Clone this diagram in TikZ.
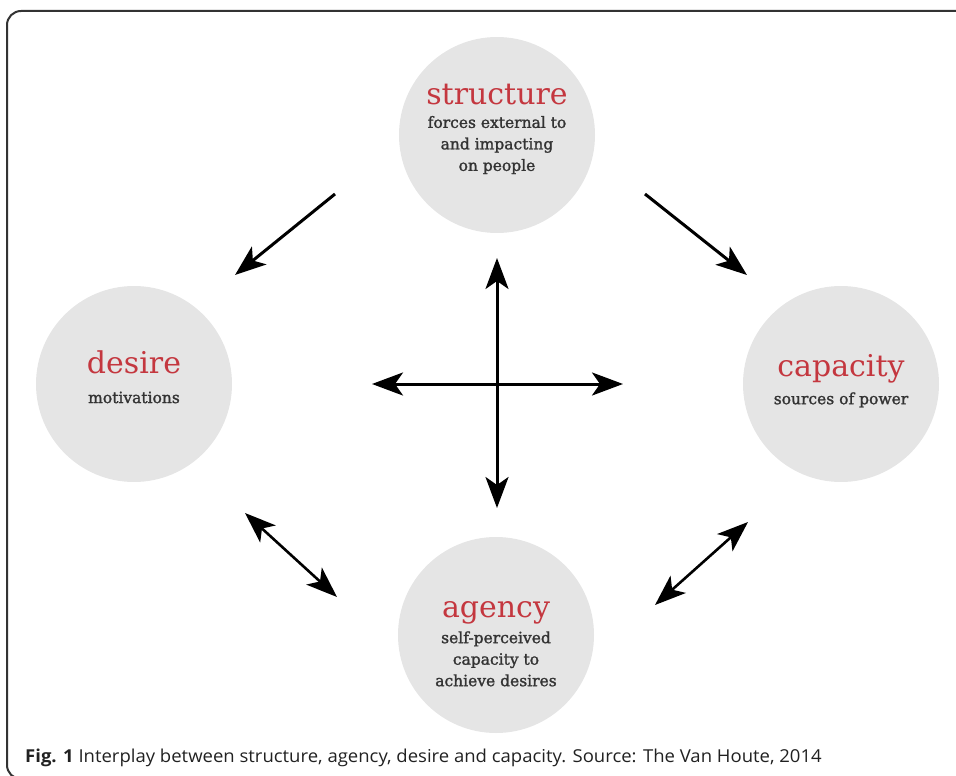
\documentclass[tikz,border=0pt]{standalone}
\usepackage{fontspec}
\setmainfont{DejaVu Serif}
\newfontfamily\blurbfont[FakeBold=1.5]{DejaVu Serif}
\newfontfamily\capfont[FakeStretch=1.04]{Open Sans}
\usepackage{xcolor}
\usetikzlibrary{arrows.meta}

\definecolor{bubblegray}{HTML}{E5E5E5}
\definecolor{headred}{HTML}{C4373F}
\definecolor{bodygray}{HTML}{333333}
\definecolor{framegray}{HTML}{333333}

\begin{document}
\begin{tikzpicture}[
				x=1pt, y=-1pt,
				bubble/.style = {circle, fill=bubblegray, minimum size=196pt, inner sep=0pt},
				blurb/.style = {align=center, inner sep=0pt, text=bodygray, font=\blurbfont\fontsize{15.5}{21.5}\selectfont},
				head/.style = {-{Stealth[length=31pt, width=23pt, inset=8pt]}},
				arrow/.style = {head, line width=3pt},
				twoway/.style = {{Stealth[length=31pt, width=23pt, inset=8pt]}-{Stealth[length=31pt, width=23pt, inset=8pt]}, line width=2.6pt}
				]
				\useasboundingbox (0,0) rectangle (956,776);
				\clip (0,0) rectangle (956,776);
				
				% panel border, runs off the right and bottom
				\draw[framegray, line width=2pt, rounded corners=14pt] (1000,779) -- (7,779) -- (7,11) -- (1000,11);
				
				\node[bubble] (structure) at (497,135) {};
				\node[bubble] (desire) at (134,384) {};
				\node[bubble] (capacity) at (841,384) {};
				\node[bubble] (agency) at (496,635) {};
				
				\node[blurb] (structure text) at ([yshift=6pt]structure.center) {{\rmfamily\fontsize{30}{30}\selectfont\color{headred}structure}\\[2pt] forces external to\\ and impacting\\ on people};
				\node[blurb] (desire text) at ([yshift=7pt]desire.center) {{\rmfamily\fontsize{30}{30}\selectfont\color{headred}desire}\\[8pt] motivations};
				\node[blurb] (capacity text) at ([yshift=3pt]capacity.center) {{\rmfamily\fontsize{30}{30}\selectfont\color{headred}capacity}\\[6pt] sources of power};
				\node[blurb] (agency text) at ([yshift=-9pt]agency.center) {{\rmfamily\fontsize{30}{30}\selectfont\color{headred}agency}\\[4pt] self-perceived\\ capacity to\\ achieve desires};
				
				\coordinate (sd tail) at (335,194);
				\coordinate (sd tip) at (235,275);
				\coordinate (sc tail) at (645,194);
				\coordinate (sc tip) at (747,275);
				\coordinate (da1) at (245,513);
				\coordinate (da2) at (337,597);
				\coordinate (ac1) at (655,605);
				\coordinate (ac2) at (748,522);
				\coordinate (hub top) at (497,258);
				\coordinate (hub bottom) at (497,508);
				\coordinate (hub left) at (372,384);
				\coordinate (hub right) at (623,384);
				
				\draw[arrow] (sd tail) -- (sd tip);
				\draw[arrow] (sc tail) -- (sc tip);
				\draw[twoway] (da1) -- (da2);
				\draw[twoway] (ac1) -- (ac2);
				\draw[twoway, line width=3pt] (hub top) -- (hub bottom);
				\draw[twoway, line width=3pt] (hub left) -- (hub right);
				
				\node[anchor=base west, inner sep=0pt, text=black!87, font=\capfont\fontsize{17.8}{22}\selectfont] (caption) at (25,762) {\textbf{Fig. 1} Interplay between structure, agency, desire and capacity. Source: The Van Houte, 2014};
			\end{tikzpicture}
\end{document}
